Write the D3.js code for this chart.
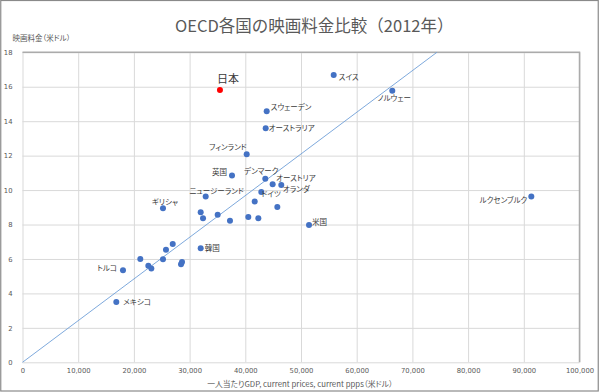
<!DOCTYPE html>
<html>
<head>
<meta charset="utf-8">
<script src="https://cdn.jsdelivr.net/npm/d3@7"></script>
<style>
  html, body { margin: 0; padding: 0; background: #fff; }
  svg { display: block; }
  .jp { font-family: "Noto Sans CJK JP", "Noto Sans", sans-serif; font-feature-settings: "palt"; }
</style>
</head>
<body>
<svg id="chart" width="600" height="392"></svg>
<script>
// ---- Data ----
const countries = ["日本","スイス","ノルウェー","スウェーデン","オーストラリア","フィンランド","英国","デンマーク","オーストリア","オランダ","ドイツ","ニュージーランド","ギリシャ","米国","ルクセンブルク","韓国","トルコ","メキシコ","","","","","","","","","","","","","","","",""];
const gdp =   [35450, 55870, 66390, 43840, 43660, 40250, 37610, 43590, 44910, 46460, 42870, 32890, 25220, 51440, 91350, 31990, 18040, 16840, 31990, 32410, 35040, 37250, 40540, 42340, 41690, 45750, 26970, 25760, 21150, 25220, 22590, 23130, 28640, 28460];
const price = [15.81, 16.68, 15.77, 14.58, 13.59, 12.08, 10.84, 10.66, 10.34, 10.30, 9.89, 9.62, 8.94, 7.97, 9.62, 6.62, 5.34, 3.50, 8.71, 8.36, 8.57, 8.22, 8.44, 8.36, 9.33, 9.02, 6.87, 6.54, 6.00, 5.98, 5.61, 5.44, 5.82, 5.69];
const highlight = ["日本"];
const trendX = [0, 74400];
const trendY = [0, 18];
const xTicks = [0, 10000, 20000, 30000, 40000, 50000, 60000, 70000, 80000, 90000, 100000];
const yTicks = [0, 2, 4, 6, 8, 10, 12, 14, 16, 18];
const titleText = "OECD各国の映画料金比較（2012年）";
const yTitle = "映画料金（米ドル）";
const xTitle = "一人当たりGDP, current prices, current ppps（米ドル）";

// ---- Layout (not data) ----
const L = 22.5, R = 579.5, T = 52.3, B = 362.3;
const labelPos = {
  "日本": {a:"start", dx:-3, dy:-7},
  "スイス": {a:"start", dx:5, dy:4.5},
  "ノルウェー": {a:"middle", dx:2, dy:10},
  "スウェーデン": {a:"start", dx:4, dy:-1.5},
  "オーストラリア": {a:"start", dx:3, dy:2.5},
  "フィンランド": {a:"end", dx:0, dy:-4.5},
  "英国": {a:"end", dx:-5, dy:-0.5},
  "デンマーク": {a:"middle", dx:-4, dy:-5},
  "オーストリア": {a:"start", dx:3.5, dy:-3.5},
  "オランダ": {a:"start", dx:1.5, dy:7},
  "ドイツ": {a:"start", dx:0, dy:5.5},
  "ニュージーランド": {a:"middle", dx:11, dy:-3},
  "ギリシャ": {a:"middle", dx:2, dy:-3.5},
  "米国": {a:"start", dx:3, dy:-0.5},
  "ルクセンブルク": {a:"end", dx:-4, dy:6.5},
  "韓国": {a:"start", dx:4, dy:2.5},
  "トルコ": {a:"end", dx:-6, dy:0.5},
  "メキシコ": {a:"start", dx:7, dy:2.5}
};

const svg = d3.select("#chart");
const x = d3.scaleLinear().domain([0, 100000]).range([L, R]);
const y = d3.scaleLinear().domain([0, 18]).range([B, T]);

// outer frame
svg.append("rect").attr("x", 0.75).attr("y", 0.5).attr("width", 597.5).attr("height", 390.5)
  .attr("fill", "#fff").attr("stroke", "#8a8a8a").attr("stroke-width", 1.2);

// gridlines + tick labels
const yAxis = svg.append("g").attr("transform", `translate(${L},0)`)
  .call(d3.axisLeft(y).tickValues(yTicks).tickSize(-(R - L)).tickPadding(10).tickFormat(d3.format("d")));
const xAxis = svg.append("g").attr("transform", `translate(0,${B})`)
  .call(d3.axisBottom(x).tickValues(xTicks).tickSize(-(B - T)).tickPadding(6).tickFormat(d3.format(",")));
[yAxis, xAxis].forEach(g => {
  g.select(".domain").remove();
  g.selectAll(".tick line").attr("stroke", "#d9d9d9").attr("stroke-width", 1);
  g.selectAll(".tick text").attr("fill", "#595959")
    .style("font-family", "'DejaVu Sans', Verdana, sans-serif").style("font-size", "6.8px");
});

// plot border (top/right darker)
svg.append("path").attr("d", `M${L},${T}H${R}V${B}`).attr("fill", "none")
  .attr("stroke", "#ababab").attr("stroke-width", 1.5);

// trend line
svg.append("line")
  .attr("x1", x(trendX[0])).attr("y1", y(trendY[0]))
  .attr("x2", x(trendX[1])).attr("y2", y(trendY[1]))
  .attr("stroke", "#6f9fd8").attr("stroke-width", 0.9);

// points
const data = countries.map((c, i) => ({c, gx: gdp[i], p: price[i]}));
svg.append("g").selectAll("circle").data(data).join("circle")
  .attr("cx", d => x(d.gx)).attr("cy", d => y(d.p)).attr("r", 3)
  .attr("fill", d => highlight.includes(d.c) ? "#ff0000" : "#4472c4");

// labels
svg.append("g").selectAll("text").data(data.filter(d => d.c)).join("text")
  .attr("class", "jp")
  .attr("x", d => x(d.gx) + labelPos[d.c].dx)
  .attr("y", d => y(d.p) + labelPos[d.c].dy)
  .attr("text-anchor", d => labelPos[d.c].a)
  .attr("fill", "#3a3a3a")
  .style("font-size", d => highlight.includes(d.c) ? "11px" : "7.5px")
  .text(d => d.c);

// titles
svg.append("text").attr("class", "jp").attr("x", 175).attr("y", 32)
  .attr("fill", "#595959").style("font-size", "16.5px").style("font-feature-settings", "normal")
  .text(titleText);
svg.append("text").attr("class", "jp").attr("x", 12.5).attr("y", 41)
  .attr("fill", "#595959").style("font-size", "7.5px").text(yTitle);
svg.append("text").attr("class", "jp").attr("x", 300).attr("y", 386.5).attr("text-anchor", "middle")
  .attr("fill", "#595959").style("font-size", "7.8px").text(xTitle);
</script>
</body>
</html>
